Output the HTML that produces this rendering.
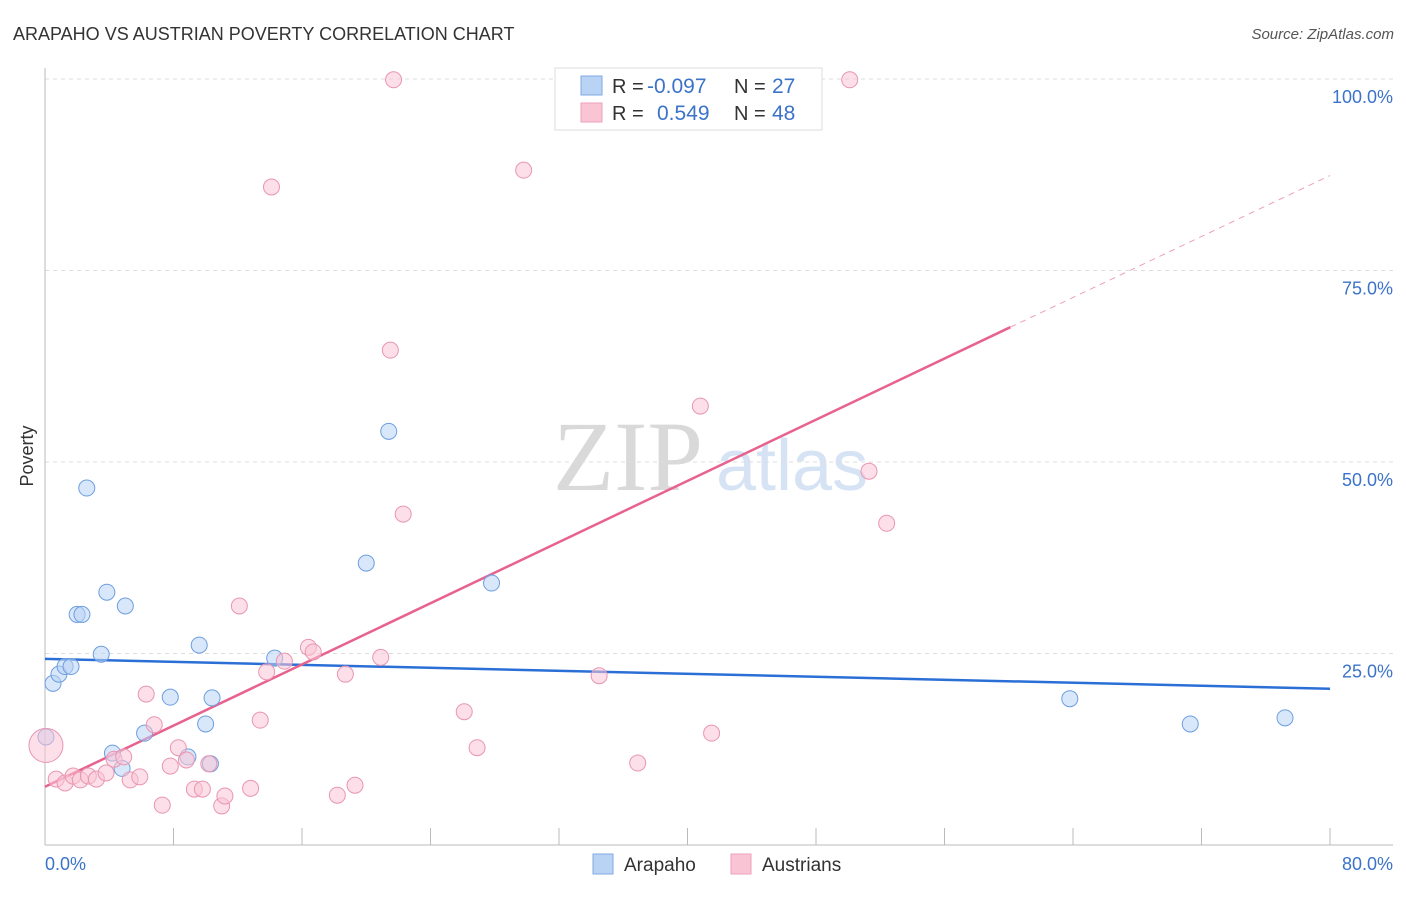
<!DOCTYPE html>
<html><head><meta charset="utf-8"><style>
body{margin:0;background:#fff;font-family:"Liberation Sans",sans-serif;}
</style></head><body>
<svg id="chart" width="1406" height="892" xmlns="http://www.w3.org/2000/svg" font-family="Liberation Sans, sans-serif">
<text x="13" y="40" font-size="18" fill="#333">ARAPAHO VS AUSTRIAN POVERTY CORRELATION CHART</text>
<text x="1394" y="39" font-size="15" fill="#555" text-anchor="end" font-style="italic">Source: ZipAtlas.com</text>
<g>
<text x="553" y="490" font-size="100" fill="#d9d9d9" style="font-family:'Liberation Serif',serif">ZIP</text>
<text x="716" y="490" font-size="72" fill="#d6e3f5">atlas</text>
</g>
<g id="grid"></g><g id="axes"></g><g id="lines"></g><g id="pts"></g>
<text transform="translate(33,456) rotate(-90)" font-size="18" fill="#333" text-anchor="middle">Poverty</text>
<text x="45" y="870" font-size="18" fill="#3b73c9">0.0%</text>
<text x="1393" y="870" font-size="18" fill="#3b73c9" text-anchor="end">80.0%</text>
<g>
<rect x="555" y="68" width="267" height="62" fill="#fff" stroke="#ddd"/>
<rect x="581" y="76" width="21" height="19" fill="#b9d3f5" stroke="#7fa9e3"/>
<rect x="581" y="103" width="21" height="19" fill="#f9c5d5" stroke="#eda0b8"/>
<text x="612" y="93" font-size="20" fill="#333">R =</text><text x="647" y="93" font-size="21" fill="#3b73c9">-0.097</text>
<text x="734" y="93" font-size="20" fill="#333">N =</text><text x="772" y="93" font-size="21" fill="#3b73c9">27</text>
<text x="612" y="120" font-size="20" fill="#333">R =</text><text x="657" y="120" font-size="21" fill="#3b73c9">0.549</text>
<text x="734" y="120" font-size="20" fill="#333">N =</text><text x="772" y="120" font-size="21" fill="#3b73c9">48</text>
</g>
<g>
<rect x="593" y="854" width="20" height="20" fill="#b9d3f5" stroke="#7fa9e3"/>
<text x="624" y="871" font-size="19" fill="#333">Arapaho</text>
<rect x="731" y="854" width="20" height="20" fill="#f9c5d5" stroke="#eda0b8"/>
<text x="762" y="871" font-size="19" fill="#333">Austrians</text>
</g>
</svg>
<script>
const yTicks=[25,50,75,100];
const yTickLabels=["25.0%","50.0%","75.0%","100.0%"];
const arapahoX=[0.06,0.5,0.87,1.25,1.62,2.0,2.3,2.6,3.5,3.85,4.2,4.8,5.0,6.2,7.8,8.9,9.6,10.0,10.3,10.4,14.3,20.0,21.4,27.8,63.8,71.3,77.2];
const arapahoY=[14.1,21.1,22.3,23.3,23.3,30.1,30.1,46.6,24.9,33.0,12.0,10.0,31.2,14.6,19.3,11.5,26.1,15.8,10.6,19.2,24.4,36.8,54.0,34.2,19.1,15.8,16.6];
const austriansX=[0.06,0.7,1.25,1.75,2.2,2.7,3.2,3.8,4.3,4.9,5.3,5.9,6.3,6.8,7.3,7.8,8.3,8.8,9.3,9.8,10.2,11.0,11.2,12.1,12.8,13.4,13.8,14.1,14.9,16.4,16.7,18.2,18.7,19.3,20.9,21.5,21.7,22.3,26.1,26.9,29.8,34.5,36.9,40.8,41.5,50.1,51.3,52.4];
const austriansY=[13.0,8.6,8.1,9.0,8.5,9.0,8.6,9.4,11.2,11.5,8.5,8.9,19.7,15.7,5.2,10.3,12.7,11.1,7.3,7.3,10.6,5.1,6.4,31.2,7.4,16.3,22.6,85.9,24.0,25.8,25.2,6.5,22.3,7.8,24.5,64.6,99.9,43.2,17.4,12.7,88.1,22.1,10.7,57.3,14.6,99.9,48.8,42.0];
const arapahoTrend=[24.3,20.4];
const austriansTrend=[7.6,67.6,87.4];
const NS="http://www.w3.org/2000/svg";
const xs=v=>45+v/80*1285, ys=v=>845-v/100*766;
function el(p,t,a){const e=document.createElementNS(NS,t);for(const k in a)e.setAttribute(k,a[k]);document.getElementById(p).appendChild(e);return e;}
yTicks.forEach((t,i)=>{
 const g=el('grid','line',{x1:45,x2:1393,y1:ys(t),y2:ys(t),stroke:'#ddd','stroke-dasharray':'4,4'});
 
 
 const l=el('axes','text',{x:1393,y:ys(t)+24,'font-size':18,fill:'#3b73c9','text-anchor':'end'});
 l.textContent=yTickLabels[i];
 
 
});
const ya=el('axes','line',{x1:45,x2:45,y1:68,y2:845,stroke:'#bbb'});


const xa=el('axes','line',{x1:45,x2:1393,y1:845,y2:845,stroke:'#bbb'});


for(let i=0;i<=10;i++){const t=el('axes','line',{x1:xs(i*8),x2:xs(i*8),y1:828,y2:845,stroke:'#bbb'});
 
 }
function pt(x,y,fill,st,r,name){const c=el('pts','circle',{cx:xs(x),cy:ys(y),r:r,fill:fill,'fill-opacity':0.55,stroke:st,'stroke-width':1});
 
 }
arapahoX.forEach((x,i)=>pt(x,arapahoY[i],'#b9d3f5','#6d9ee0',8,'arapaho-point'));
austriansX.forEach((x,i)=>pt(x,austriansY[i],'#f9c5d5','#e996b1',i===0?17:8,'austrians-point'));
const bl=el('lines','line',{x1:xs(0),y1:ys(arapahoTrend[0]),x2:xs(80),y2:ys(arapahoTrend[1]),stroke:'#2b6fd6','stroke-width':2.5});


const pl=el('lines','line',{x1:xs(0),y1:ys(austriansTrend[0]),x2:xs(60.1),y2:ys(austriansTrend[1]),stroke:'#e8628e','stroke-width':2.5});


const pd=el('lines','line',{x1:xs(60.1),y1:ys(austriansTrend[1]),x2:xs(80),y2:ys(austriansTrend[2]),stroke:'#eda0b8','stroke-width':1,'stroke-dasharray':'6,5'});


</script>
</body></html>
